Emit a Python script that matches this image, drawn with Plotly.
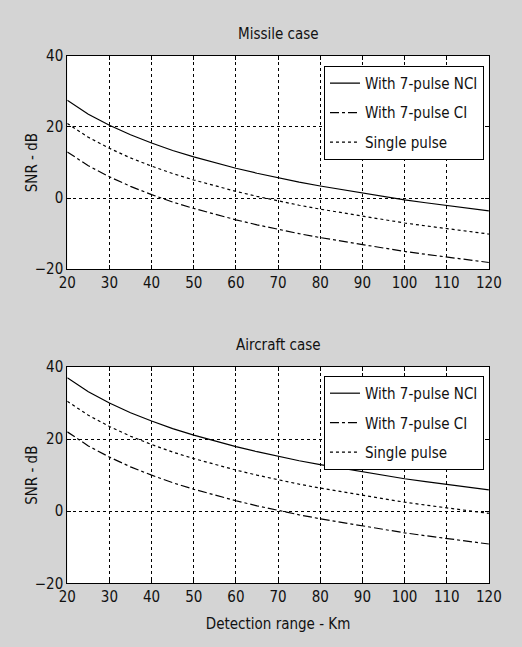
import plotly.graph_objects as go

# Detection range (km)
rng = [20, 25, 30, 35, 40, 45, 50, 55, 60, 65, 70, 75, 80, 85, 90, 95, 100, 105, 110, 115, 120]

# Missile case SNR (dB)
missile_nci = [27.5, 23.6, 20.5, 17.8, 15.5, 13.4, 11.6, 9.9, 8.4, 7.0, 5.7, 4.5, 3.4, 2.4, 1.4, 0.4, -0.5, -1.3, -2.1, -2.9, -3.6]
missile_ci = [13.0, 9.1, 6.0, 3.3, 1.0, -1.1, -2.9, -4.6, -6.1, -7.5, -8.8, -10.0, -11.1, -12.1, -13.1, -14.1, -15.0, -15.8, -16.6, -17.4, -18.1]
missile_single = [21.0, 17.1, 14.0, 11.3, 9.0, 6.9, 5.1, 3.4, 1.9, 0.5, -0.8, -2.0, -3.1, -4.1, -5.1, -6.1, -7.0, -7.8, -8.6, -9.4, -10.1]

# Aircraft case SNR (dB)
aircraft_nci = [37.0, 33.1, 30.0, 27.3, 25.0, 22.9, 21.1, 19.4, 17.9, 16.5, 15.2, 14.0, 12.9, 11.9, 10.9, 9.9, 9.0, 8.2, 7.4, 6.6, 5.9]
aircraft_ci = [22.0, 18.1, 15.0, 12.3, 10.0, 7.9, 6.1, 4.4, 2.9, 1.5, 0.2, -1.0, -2.1, -3.1, -4.1, -5.1, -6.0, -6.8, -7.6, -8.4, -9.1]
aircraft_single = [30.5, 26.6, 23.5, 20.8, 18.5, 16.4, 14.6, 12.9, 11.4, 10.0, 8.7, 7.5, 6.4, 5.4, 4.4, 3.4, 2.5, 1.7, 0.9, 0.1, -0.6]

series_names = ["With 7-pulse NCI", "With 7-pulse CI", "Single pulse"]
x_ticks = [20, 30, 40, 50, 60, 70, 80, 90, 100, 110, 120]
y_ticks = [-20, 0, 20, 40]
titles = ["Missile case", "Aircraft case"]
y_title = "SNR - dB"
x_title = "Detection range - Km"

W, H = 522, 647
FONT = "DejaVu Sans Condensed, Liberation Sans Narrow, Arial Narrow, Liberation Sans, sans-serif"
BG = "#d4d4d4"
TXT = "#111111"

# target positions (screen pixels) mapped into figure pixels
def sx(X):
    return (X - 8) / 0.97

def sy(Y):
    return (Y - 8) / 0.975

x0, x1 = sx(67), sx(494)
plots = [(sy(55), sy(269)), (sy(367), sy(584))]
legend_right = sx(489)
legend_tops = [sy(65), sy(376)]
title_ys = [sy(33), sy(345)]
ytitle_x = sx(31)

def fx(px):
    return px / W

def fy(py):
    return 1 - py / H

fig = go.Figure()
styles = ["solid", "dashdot", "dot"]
data = [[missile_nci, missile_ci, missile_single], [aircraft_nci, aircraft_ci, aircraft_single]]

for i, group in enumerate(data):
    ax = "" if i == 0 else "2"
    for k, (name, ys, dash) in enumerate(zip(series_names, group, styles)):
        fig.add_trace(go.Scatter(
            x=rng, y=ys, mode="lines", name=name,
            line=dict(color="black", width=1.2, dash=dash),
            xaxis="x" + ax, yaxis="y" + ax,
            legend="legend" if i == 0 else "legend2",
            legendgroup=f"g{i}{k}",
        ))

axis_common = dict(
    showline=True, linecolor="black", linewidth=1, mirror="ticks",
    ticks="inside", ticklen=4, tickcolor="black",
    showgrid=True, gridcolor="black", gridwidth=1, griddash="3px,3px",
    zeroline=False,
    tickfont=dict(family=FONT, size=15, color=TXT),
)

layout = dict(
    width=W, height=H,
    paper_bgcolor=BG, plot_bgcolor="white",
    margin=dict(l=0, r=0, t=0, b=0),
    showlegend=True,
    font=dict(family=FONT, color=TXT),
)

for i, (top, bot) in enumerate(plots):
    sfx = "" if i == 0 else "2"
    layout["xaxis" + sfx] = dict(
        axis_common, domain=[fx(x0), fx(x1)], range=[20, 120],
        tickvals=x_ticks, anchor="y" + sfx,
        title=dict(text=x_title if i == 1 else "",
                   font=dict(family=FONT, size=15, color=TXT), standoff=13),
    )
    layout["yaxis" + sfx] = dict(
        axis_common, domain=[fy(bot), fy(top)], range=[-20, 40],
        tickvals=y_ticks, anchor="x" + sfx,
    )
    leg = dict(
        x=fx(legend_right), y=fy(legend_tops[i]), xanchor="right", yanchor="top",
        bgcolor="white", bordercolor="black", borderwidth=1,
        font=dict(family=FONT, size=15, color=TXT),
        tracegroupgap=7,
    )
    layout["legend" if i == 0 else "legend2"] = leg

fig.update_layout(**layout)

for i, (top, bot) in enumerate(plots):
    fig.add_annotation(
        text=titles[i], x=(fx(x0) + fx(x1)) / 2, y=fy(title_ys[i]),
        xref="paper", yref="paper", showarrow=False,
        font=dict(family=FONT, size=15, color=TXT),
        xanchor="center", yanchor="middle",
    )
    fig.add_annotation(
        text=y_title, x=fx(ytitle_x), y=(fy(top) + fy(bot)) / 2,
        xref="paper", yref="paper", showarrow=False, textangle=-90,
        font=dict(family=FONT, size=15, color=TXT),
        xanchor="center", yanchor="middle",
    )

post = (
    "document.body.style.margin='0';"
    "document.body.style.background='%s';"
) % BG

fig.write_html("out.html", config={"displayModeBar": False}, post_script=post)
